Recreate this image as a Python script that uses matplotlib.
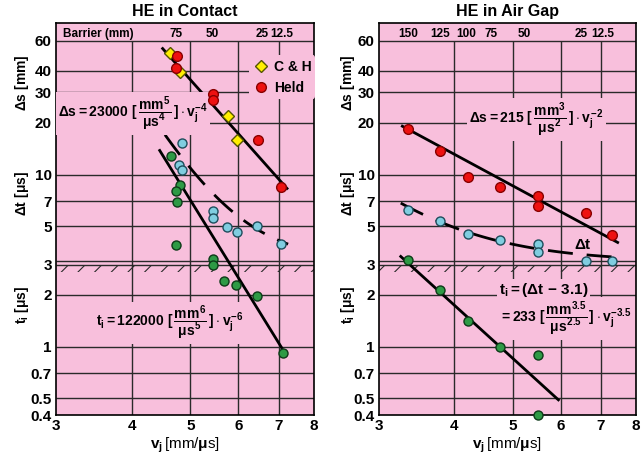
import numpy as np
import matplotlib.pyplot as plt

plt.rcParams['font.family'] = ['Liberation Sans', 'DejaVu Sans']
plt.rcParams['font.weight'] = 'bold'
plt.rcParams['mathtext.fontset'] = 'custom'
plt.rcParams['mathtext.rm'] = 'Liberation Sans:bold'
plt.rcParams['mathtext.it'] = 'Liberation Sans:bold'
plt.rcParams['mathtext.bf'] = 'Liberation Sans:bold'
plt.rcParams['hatch.linewidth'] = 0.8

PINK = '#f8bfdc'
GRID = '#2a2a2a'

# --- HE in Contact ---
ch_v = [4.63, 4.81, 5.77, 5.97]
ch_ds = [51.2, 39.4, 21.9, 15.8]
held_v = [4.76, 4.74, 5.45, 5.45, 6.46, 7.06]
held_ds = [48.9, 41.8, 29.5, 27.2, 15.8, 8.5]
c_dt_v = [4.84, 4.78, 4.85, 5.45, 5.45, 5.74, 5.98, 6.43, 7.07]
c_dt = [15.3, 11.4, 10.6, 6.17, 5.60, 4.93, 4.64, 5.0, 3.95]
c_ti_v = [4.65, 4.81, 4.74, 4.76, 4.74, 5.44, 5.44, 5.69, 5.95, 6.45, 7.12]
c_ti = [12.8, 8.74, 8.0, 6.96, 3.91, 3.23, 2.97, 2.39, 2.27, 1.98, 0.92]
c_ds_fit_v = [4.50, 7.22]
c_ds_fit = [54.0, 8.3]
c_ti_fit_v = [4.45, 7.08]
c_ti_fit = [13.8, 0.98]
c_dt_coef, c_dt_exp, c_dt_range = 122000, 6, (4.54, 7.25)
c_barrier_v = [4.73, 5.43, 6.56, 7.09]
c_barrier = ['75', '50', '25', '12.5']

# --- HE in Air Gap ---
g_v = [3.35, 3.78, 4.21, 4.76, 5.51, 5.51, 6.60, 7.29]
g_ds = [18.3, 13.7, 9.7, 8.43, 7.54, 6.6, 5.98, 4.47]
g_dt = [6.2, 5.4, 4.52, 4.18, 3.96, 3.53, 3.16, 3.16]
g_ti_v = [3.35, 3.78, 4.21, 4.76, 5.51, 5.51]
g_ti = [3.2, 2.14, 1.40, 1.0, 0.895, 0.4]
g_ds_fit_v = [3.28, 7.46]
g_ds_fit = [19.1, 4.03]
g_ti_fit_v = [3.26, 5.95]
g_ti_fit = [3.34, 0.49]
g_dt_coef, g_dt_exp, g_dt_range = 233, 3.5, (3.26, 7.3)
g_barrier_v = [3.36, 3.79, 4.18, 4.60, 5.22, 6.49, 7.05]
g_barrier = ['150', '125', '100', '75', '50', '25', '12.5']

ti_offset = 3.1
yticks = [0.4, 0.5, 0.7, 1, 2, 3, 5, 7, 10, 20, 30, 40, 60]
ytick_labels = ['0.4', '0.5', '0.7', '1', '2', '3', '5', '7', '10', '20', '30', '40', '60']
xticks = [3, 4, 5, 6, 7, 8]
hlines = [60, 40, 30, 20, 10, 7, 5, 2, 1, 0.7, 0.5]

fig = plt.figure(figsize=(6.42, 4.55), dpi=100)
ax1 = fig.add_axes([0.0872, 0.0879, 0.4019, 0.8615])
ax2 = fig.add_axes([0.5903, 0.0879, 0.4003, 0.8615])

box = dict(facecolor=PINK, edgecolor='none', pad=1.5)


def setup(ax, title, barrier_v, barrier):
    ax.set_facecolor(PINK)
    ax.set_xscale('log')
    ax.set_yscale('log')
    ax.set_xlim(3, 8)
    ax.set_ylim(0.4, 76)
    ax.set_xticks(xticks)
    ax.set_xticklabels([str(t) for t in xticks], fontsize=11, fontweight='bold')
    ax.set_yticks(yticks)
    ax.set_yticklabels(ytick_labels, fontsize=11, fontweight='bold')
    ax.minorticks_off()
    ax.tick_params(length=0, pad=3)
    ax.hlines(hlines, 3, 8, color=GRID, lw=1, zorder=1)
    ax.vlines([4, 5, 6, 7], 0.4, 60, color=GRID, lw=1, zorder=1)
    ax.hlines([3.15, 2.97], 3, 8, color=GRID, lw=1, zorder=1)
    ax.fill_between([3, 8], 2.7, 2.97, facecolor='none', edgecolor=GRID,
                    hatch='//', linewidth=0, zorder=1)
    for s in ax.spines.values():
        s.set_linewidth(1.2)
    ax.set_title(title, fontsize=11.5, fontweight='bold', pad=5)
    ax.set_xlabel(r'$v_j\,$[mm/$\mu$s]', fontsize=11, labelpad=2)
    for v, lab in zip(barrier_v, barrier):
        ax.text(v, 66, lab, ha='center', va='center', fontsize=8.5)


def marks(ax, x, y, color, edge, marker='o', size=6.5, label=None):
    ax.plot(x, y, linestyle='none', marker=marker, ms=size, mfc=color,
            mec=edge, mew=1, zorder=5, clip_on=False, label=label)


# left panel
setup(ax1, 'HE in Contact', c_barrier_v, c_barrier)
ax1.text(3.08, 66, 'Barrier (mm)', ha='left', va='center', fontsize=8.5)
ax1.plot(c_ds_fit_v, c_ds_fit, color='black', lw=2, zorder=3)
ax1.plot(c_ti_fit_v, c_ti_fit, color='black', lw=2, zorder=3)
vv = np.geomspace(*c_dt_range, 60)
ax1.plot(vv, ti_offset + c_dt_coef * vv ** -c_dt_exp, color='black', lw=2,
         dashes=(9, 5), zorder=3)
marks(ax1, c_dt_v, c_dt, '#80cde0', '#1e4d5c')
marks(ax1, c_ti_v, c_ti, '#2e9a45', '#0d3a18')
marks(ax1, ch_v, ch_ds, '#ffee00', '#555500', marker='D', size=6, label='C & H')
marks(ax1, held_v, held_ds, '#ee1111', '#880000', size=7, label='Held')
ax1.legend(loc='upper left', bbox_to_anchor=(0.72, 0.935), frameon=True,
           facecolor=PINK, edgecolor='none', framealpha=1, fontsize=10,
           handletextpad=0.3, borderpad=0.3, labelspacing=0.5, handlelength=1.2)
ax1.text(4.02, 22.7, r'$\Delta s = 23000\ [\,\dfrac{mm^5}{\mu s^4}\,]\cdot v_j^{-4}$',
         ha='center', va='center', fontsize=10, bbox=box, zorder=4)
ax1.text(4.63, 1.37, r'$t_i = 122000\ [\,\dfrac{mm^6}{\mu s^5}\,]\cdot v_j^{-6}$',
         ha='center', va='center', fontsize=10, bbox=box, zorder=4)

# right panel
setup(ax2, 'HE in Air Gap', g_barrier_v, g_barrier)
ax2.plot(g_ds_fit_v, g_ds_fit, color='black', lw=2, zorder=3)
ax2.plot(g_ti_fit_v, g_ti_fit, color='black', lw=2, zorder=3)
vv = np.geomspace(*g_dt_range, 60)
ax2.plot(vv, ti_offset + g_dt_coef * vv ** -g_dt_exp, color='black', lw=2,
         dashes=(9, 5), zorder=3)
marks(ax2, g_v, g_ds, '#ee1111', '#880000', size=7)
marks(ax2, g_v, g_dt, '#80cde0', '#1e4d5c')
marks(ax2, g_ti_v, g_ti, '#2e9a45', '#0d3a18')
ax2.text(5.47, 20.9, r'$\Delta s = 215\ [\,\dfrac{mm^3}{\mu s^2}\,]\cdot v_j^{-2}$',
         ha='center', va='center', fontsize=10, bbox=box, zorder=4)
ax2.text(6.53, 3.91, r'$\Delta t$', ha='center', va='center', fontsize=11, zorder=4)
ax2.text(4.74, 2.14, r'$t_i = (\Delta t\ \mathrm{-}\ 3.1)$', ha='left', va='center',
         fontsize=11, bbox=box, zorder=4)
ax2.text(4.74, 1.45, r'$= 233\ [\,\dfrac{mm^{3.5}}{\mu s^{2.5}}\,]\cdot v_j^{-3.5}$',
         ha='left', va='center', fontsize=10, bbox=box, zorder=4)

# stacked y labels
for x0 in (0.034, 0.542):
    fig.text(x0, 1 - 83 / 455, r'$\Delta$s [mm]', rotation=90, ha='center',
             va='center', fontsize=10)
    fig.text(x0, 1 - 193 / 455, r'$\Delta$t [$\mu$s]', rotation=90, ha='center',
             va='center', fontsize=10)
    fig.text(x0, 1 - 305 / 455, r'$t_i$ [$\mu$s]', rotation=90, ha='center',
             va='center', fontsize=10)

fig.savefig('out.png', dpi=100, facecolor='white')
